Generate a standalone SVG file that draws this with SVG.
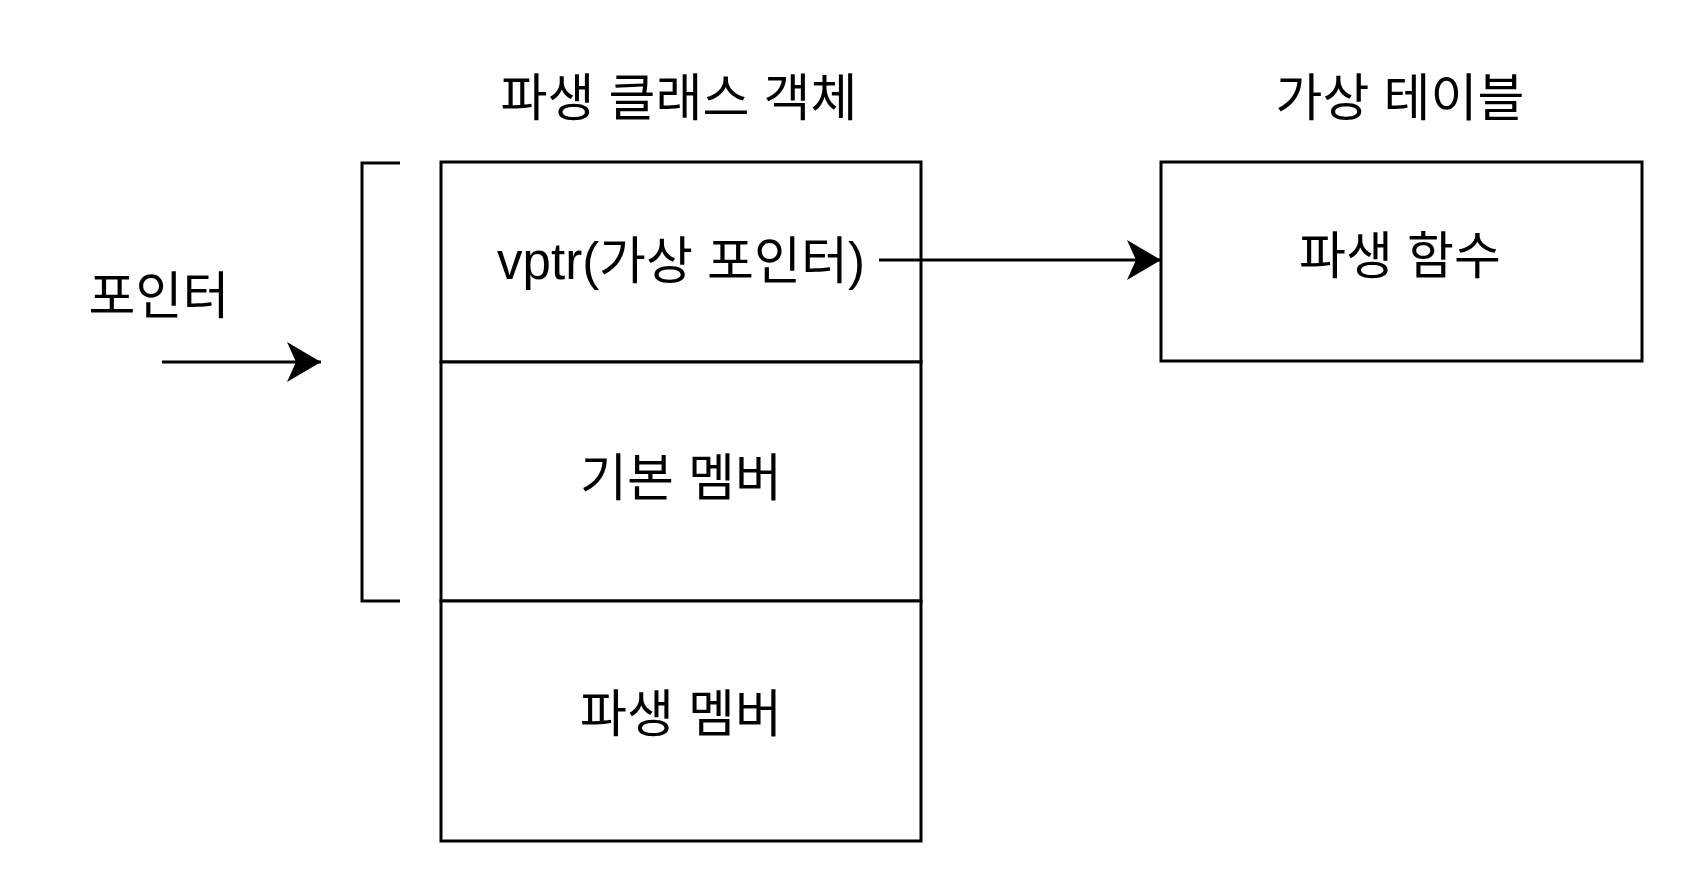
<svg xmlns="http://www.w3.org/2000/svg" width="1684" height="884" viewBox="0 0 1684 884">
<defs>
<style>
.box{fill:#fff;stroke:#000;stroke-width:3}
.ln{fill:none;stroke:#000;stroke-width:3}
.t{font-family:"Liberation Sans","Noto Sans CJK KR",sans-serif;font-size:51px;fill:#000;text-anchor:middle;dominant-baseline:central}
</style>
<marker id="arr" markerUnits="userSpaceOnUse" markerWidth="40" markerHeight="40" viewBox="0 0 40 40" refX="34" refY="20" orient="auto">
<path d="M0,0 L34,20 L0,40 L9,20 Z" fill="#000"/>
</marker>
</defs>
<rect width="1684" height="884" fill="#fff"/>
<g id="title-object"><text class="t" x="679" y="98">파생 클래스 객체</text></g>
<g id="title-vtable"><text class="t" x="1400" y="98">가상 테이블</text></g>
<g id="pointer-label"><text class="t" x="159" y="296">포인터</text></g>
<g id="bracket"><path class="ln" d="M400,163 H362 V601 H400"/></g>
<g id="vptr"><rect class="box" x="441" y="162" width="480" height="200"/><text class="t" x="681" y="261">vptr(가상 포인터)</text></g>
<g id="base-member"><rect class="box" x="441" y="362" width="480" height="239"/><text class="t" x="681" y="478">기본 멤버</text></g>
<g id="derived-member"><rect class="box" x="441" y="601" width="480" height="240"/><text class="t" x="681" y="714">파생 멤버</text></g>
<g id="vtable"><rect class="box" x="1161" y="162" width="481" height="199"/><text class="t" x="1400" y="256">파생 함수</text></g>
<g id="connectors">
<line class="ln" x1="879" y1="260" x2="1161" y2="260" marker-end="url(#arr)"/>
<line class="ln" x1="162" y1="362" x2="321" y2="362" marker-end="url(#arr)"/>
</g>
</svg>
